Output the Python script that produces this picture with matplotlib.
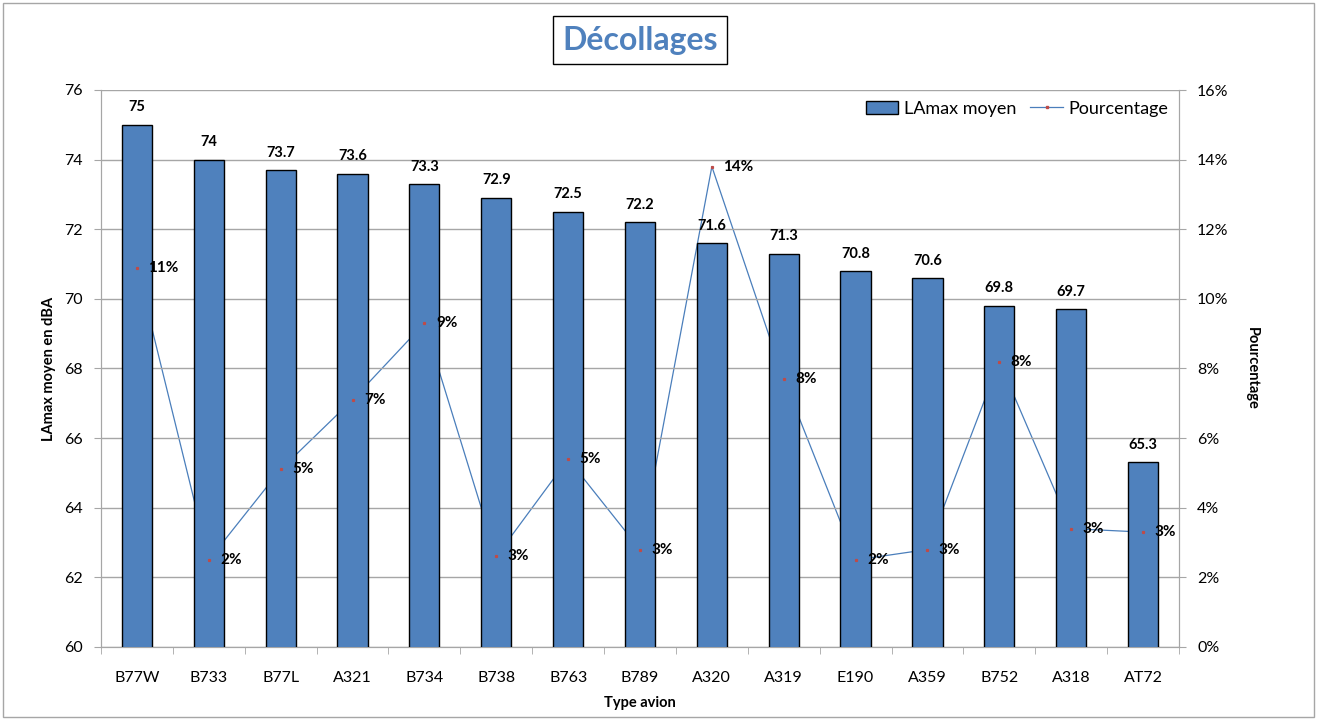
import matplotlib
matplotlib.use("Agg")
import matplotlib.pyplot as plt
import numpy as np
from matplotlib.patches import Rectangle
from matplotlib.lines import Line2D
from matplotlib.ticker import FuncFormatter

plt.rcParams['font.family'] = ['Lato', 'DejaVu Sans']

avions = ['B77W', 'B733', 'B77L', 'A321', 'B734', 'B738', 'B763', 'B789',
          'A320', 'A319', 'E190', 'A359', 'B752', 'A318', 'AT72']
lamax = [75, 74, 73.7, 73.6, 73.3, 72.9, 72.5, 72.2, 71.6, 71.3, 70.8, 70.6, 69.8, 69.7, 65.3]
pourcentage = [10.9, 2.5, 5.1, 7.1, 9.3, 2.6, 5.4, 2.8, 13.8, 7.7, 2.5, 2.8, 8.2, 3.4, 3.3]

bar_color = '#4F81BD'
grid_color = '#A6A6A6'

fig = plt.figure(figsize=(13.17, 7.2), dpi=100)
ax = fig.add_axes([0.0767, 0.1014, 0.8185, 0.7736])
ax2 = ax.twinx()

x = np.arange(len(avions))

# line behind bars, markers above bars
ax.set_zorder(2)
ax.patch.set_visible(False)
ax2.set_zorder(1)
ax2.plot(x, pourcentage, color='#4A7EBB', lw=0.9, zorder=1)

bars = ax.bar(x, lamax, width=0.42, color=bar_color, edgecolor='black', linewidth=1.0, zorder=3)
for xi, v in zip(x, lamax):
    ax.text(xi, v + 0.3, f'{v:g}', ha='center', va='bottom', fontsize=10.5, fontweight='bold')

# markers and labels drawn in ax coordinates so they sit above the bars
scale = lambda p: 60 + p / 16 * 16
ax.plot(x, [scale(p) for p in pourcentage], ls='none', marker='s', ms=1.3,
        color='#BE4B48', mec='#BE4B48', zorder=4)
for xi, p in zip(x, pourcentage):
    ax.text(xi + 0.16, scale(p), f'{p:.0f}%', ha='left', va='center',
            fontsize=11, fontweight='bold', zorder=5)

ax.set_ylim(60, 76)
ax.set_yticks(range(60, 77, 2))
ax.set_xlim(-0.5, len(avions) - 0.5)
ax.set_xticks(x)
ax.set_xticklabels(avions)
ax.set_xticks(np.arange(-0.5, len(avions), 1), minor=True)
ax.tick_params(axis='x', which='major', length=0, labelsize=11.5, pad=17)
ax.tick_params(axis='x', which='minor', length=5, color=grid_color)
ax.tick_params(axis='y', length=5, color=grid_color, labelsize=11.5, pad=8)
ax.grid(axis='y', color=grid_color, lw=1.0, zorder=0)
ax.set_axisbelow(True)

ax2.set_ylim(0, 16)
ax2.set_yticks(range(0, 17, 2))
ax2.yaxis.set_major_formatter(FuncFormatter(lambda v, pos: f'{v:.0f}%'))
ax2.tick_params(axis='y', length=5, color=grid_color, labelsize=11.5, pad=8)

for a in (ax, ax2):
    for s in a.spines.values():
        s.set_color(grid_color)
    a.spines['top'].set_visible(False)

ax.set_ylabel('LAmax moyen en dBA', fontsize=10.5, fontweight='bold', labelpad=6)
ax.set_xlabel('Type avion', fontsize=10.5, fontweight='bold', labelpad=8)
ax2.set_ylabel('Pourcentage', fontsize=10.5, fontweight='bold', rotation=-90, labelpad=22)

handles = [Rectangle((0, 0), 1, 1, facecolor=bar_color, edgecolor='black'),
           Line2D([0], [0], color='#4A7EBB', lw=0.9, marker='s', ms=1.8,
                  mfc='#BE4B48', mec='#BE4B48')]
ax.legend(handles, ['LAmax moyen', 'Pourcentage'], loc='upper right', ncol=2,
          frameon=False, fontsize=13, bbox_to_anchor=(1.005, 1.01),
          handlelength=1.8, handletextpad=0.3, columnspacing=0.8)

fig.text(0.486, 0.944, 'Décollages', ha='center', va='center', fontsize=23,
         fontweight='bold', color=bar_color,
         bbox=dict(boxstyle='square,pad=0.3', facecolor='white', edgecolor='black', lw=1))

fig.patches.append(Rectangle((0.002, 0.004), 0.996, 0.992, transform=fig.transFigure,
                             fill=False, edgecolor=grid_color, lw=1))

fig.savefig('out.png', dpi=100)
